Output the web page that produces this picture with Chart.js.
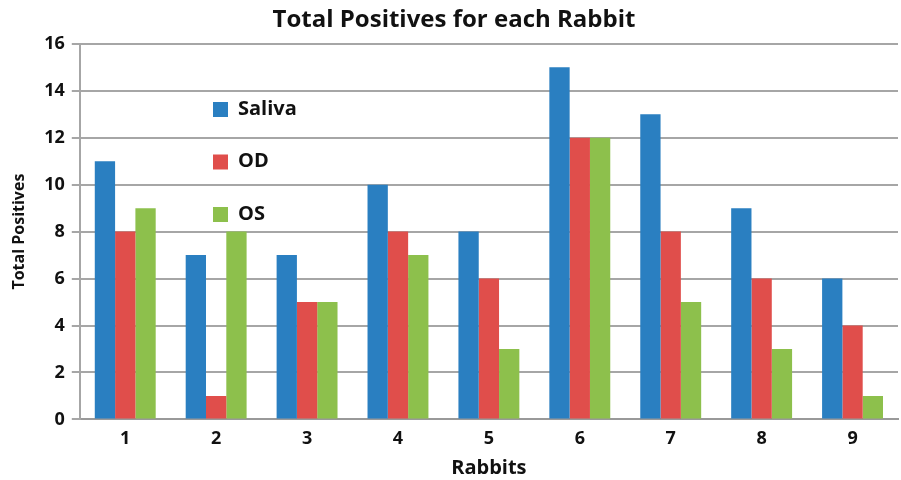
<!DOCTYPE html>
<html>
<head>
<meta charset="utf-8">
<script src="https://cdn.jsdelivr.net/npm/chart.js@4"></script>
<style>
  html, body { margin: 0; padding: 0; background: #fff; }
  #wrap { width: 901px; height: 480px; }
</style>
</head>
<body>
<div id="wrap"><canvas id="rabbitChart"></canvas></div>
<script>
// data
const rabbits = ["1", "2", "3", "4", "5", "6", "7", "8", "9"];
const saliva = [11, 7, 7, 10, 8, 15, 13, 9, 6];
const od = [8, 1, 5, 8, 6, 12, 8, 6, 4];
const os = [9, 8, 5, 7, 3, 12, 5, 3, 1];
const seriesNames = ["Saliva", "OD", "OS"];

const FONT = "'Open Sans', 'DejaVu Sans', sans-serif";

// legend drawn inside the plot, stacked vertically
const insideLegend = {
    id: "insideLegend",
    afterDraw(chart) {
        const ctx = chart.ctx;
        ctx.save();
        ctx.font = "bold 20px " + FONT;
        ctx.textBaseline = "middle";
        chart.data.datasets.forEach((ds, i) => {
            const y = 109 + i * 52.5;
            ctx.fillStyle = ds.backgroundColor;
            ctx.fillRect(213, y - 7, 15, 15);
            ctx.fillStyle = "#111";
            ctx.fillText(ds.label, 238, y);
        });
        ctx.restore();
    }
};

const ctx = document.getElementById("rabbitChart").getContext("2d");
new Chart(ctx, {
    type: "bar",
    data: {
        labels: rabbits,
        datasets: [
            { label: seriesNames[0], data: saliva, backgroundColor: "#2a7fc1" },
            { label: seriesNames[1], data: od, backgroundColor: "#e04e4b" },
            { label: seriesNames[2], data: os, backgroundColor: "#8dc04c" }
        ]
    },
    options: {
        responsive: true,
        maintainAspectRatio: false,
        animation: false,
        layout: { padding: { left: 10, right: 3, top: 6, bottom: 0 } },
        datasets: {
            bar: { categoryPercentage: 0.67, barPercentage: 1.0 }
        },
        plugins: {
            legend: { display: false },
            tooltip: { enabled: false },
            title: {
                display: true,
                text: "Total Positives for each Rabbit",
                color: "#111",
                font: { family: FONT, size: 24, weight: "bold" },
                padding: { top: 0, bottom: 9 }
            }
        },
        scales: {
            x: {
                grid: { display: false },
                border: { color: "#999", width: 2 },
                ticks: { color: "#111", font: { family: FONT, size: 18, weight: "bold" }, padding: 1 },
                title: {
                    display: true,
                    text: "Rabbits",
                    color: "#111",
                    font: { family: FONT, size: 20, weight: "bold" },
                    padding: { top: 5, bottom: 0 }
                }
            },
            y: {
                min: 0,
                max: 16,
                ticks: { stepSize: 2, color: "#111", font: { family: FONT, size: 18, weight: "bold" }, padding: 7 },
                grid: { color: "#a6a6a6", lineWidth: 2, tickLength: 8 },
                border: { color: "#a6a6a6", width: 2 },
                title: {
                    display: true,
                    text: "Total Positives",
                    color: "#111",
                    font: { family: FONT, size: 16, weight: "bold" },
                    padding: { top: 0, bottom: 8 }
                }
            }
        }
    },
    plugins: [insideLegend]
});
</script>
</body>
</html>
